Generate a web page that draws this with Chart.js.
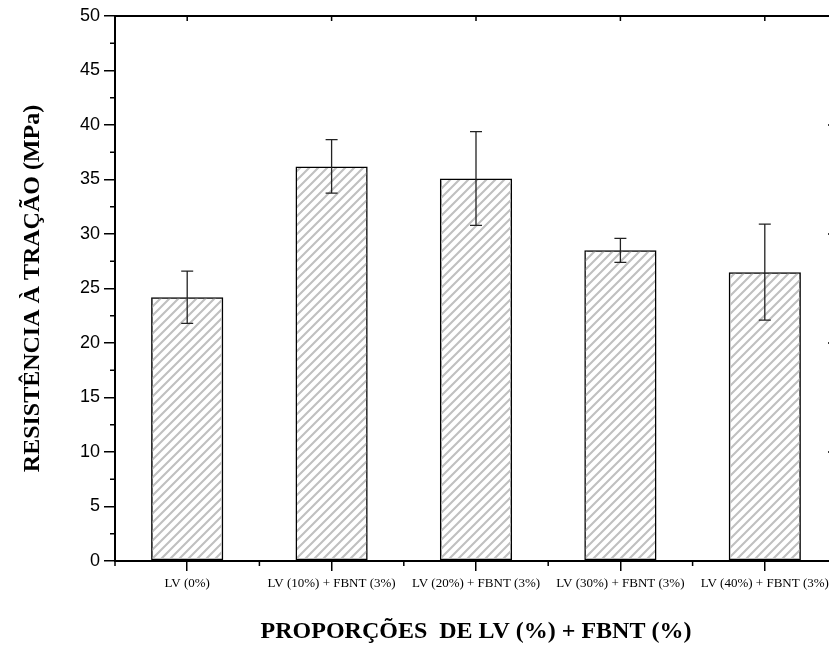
<!DOCTYPE html>
<html>
<head>
<meta charset="utf-8">
<script src="https://cdn.jsdelivr.net/npm/chart.js@4.4.1/dist/chart.umd.min.js"></script>
<style>
html, body { margin: 0; padding: 0; overflow: hidden; background: #fff; }
canvas { display: block; }
</style>
</head>
<body>
<canvas id="grafico" width="840" height="649"></canvas>
<script>
const categorias = ['LV (0%)', 'LV (10%) + FBNT (3%)', 'LV (20%) + FBNT (3%)', 'LV (30%) + FBNT (3%)', 'LV (40%) + FBNT (3%)'];
const resistencia = [24.2, 36.2, 35.1, 28.5, 26.5];
const desvio = [2.4, 2.45, 4.3, 1.1, 4.4];
const ticksY = [0, 5, 10, 15, 20, 25, 30, 35, 40, 45, 50];
const ticksDireita = [0, 10, 20, 30, 40, 50];

const ctx = document.getElementById('grafico').getContext('2d');

// padrao hachurado das barras
function hachura() {
    const s = 9;
    const t = document.createElement('canvas');
    t.width = s; t.height = s;
    const c = t.getContext('2d');
    c.strokeStyle = '#c0c0c0';
    c.lineWidth = 2.1;
    c.beginPath();
    c.moveTo(0, s); c.lineTo(s, 0);
    c.moveTo(-s / 2, s / 2); c.lineTo(s / 2, -s / 2);
    c.moveTo(s / 2, s * 1.5); c.lineTo(s * 1.5, s / 2);
    c.stroke();
    return ctx.createPattern(t, 'repeat');
}

const molduraErros = {
    id: 'molduraErros',
    afterDatasetsDraw: (chart) => {
        const c = chart.ctx;
        const y = chart.scales.y;
        const meta = chart.getDatasetMeta(0);
        c.save();
        c.strokeStyle = '#222';
        c.lineWidth = 1.3;
        meta.data.forEach((bar, i) => {
            const yt = y.getPixelForValue(resistencia[i] + desvio[i]);
            const yb = y.getPixelForValue(resistencia[i] - desvio[i]);
            c.beginPath();
            c.moveTo(bar.x, yt); c.lineTo(bar.x, yb);
            c.moveTo(bar.x - 6, yt); c.lineTo(bar.x + 6, yt);
            c.moveTo(bar.x - 6, yb); c.lineTo(bar.x + 6, yb);
            c.stroke();
        });
        c.restore();
    },
    afterDraw: (chart) => {
        const c = chart.ctx;
        const a = chart.chartArea;
        const x = chart.scales.x;
        const y = chart.scales.y;
        c.save();
        c.strokeStyle = '#000';
        c.lineWidth = 2;
        c.beginPath();
        c.moveTo(a.left - 1, a.top); c.lineTo(a.right, a.top);
        c.moveTo(a.right, a.top); c.lineTo(a.right, a.bottom);
        c.stroke();
        c.lineWidth = 1.5;
        c.beginPath();
        // ticks menores eixo y
        for (let v = 2.5; v < 50; v += 5) {
            const py = y.getPixelForValue(v);
            c.moveTo(a.left - 5, py); c.lineTo(a.left, py);
        }
        // ticks menores eixo x
        const passo = x.getPixelForValue(1) - x.getPixelForValue(0);
        for (let i = 0; i <= categorias.length; i++) {
            const px = x.getPixelForValue(i) - passo / 2;
            c.moveTo(px, a.bottom); c.lineTo(px, a.bottom + 5);
        }
        // ticks do topo
        categorias.forEach((cat, i) => {
            const px = x.getPixelForValue(i);
            c.moveTo(px, a.top); c.lineTo(px, a.top + 5);
        });
        // ticks da direita
        ticksDireita.forEach(v => {
            const py = y.getPixelForValue(v);
            c.moveTo(a.right - 9, py); c.lineTo(a.right, py);
        });
        c.stroke();
        c.restore();
    }
};

new Chart(ctx, {
    type: 'bar',
    data: {
        labels: categorias,
        datasets: [{
            data: resistencia,
            backgroundColor: hachura(),
            borderColor: '#000',
            borderWidth: 1.5,
            borderSkipped: false,
            barPercentage: 0.5,
            categoryPercentage: 1
        }]
    },
    options: {
        responsive: false,
        animation: false,
        layout: { padding: { top: 16, right: 3, left: 0, bottom: 0 } },
        plugins: {
            legend: { display: false },
            tooltip: { enabled: false }
        },
        scales: {
            x: {
                grid: { offset: false, drawOnChartArea: false, tickLength: 10, color: '#000', lineWidth: 1.5 },
                border: { display: true, color: '#000', width: 2 },
                ticks: { color: '#000', font: { family: 'Liberation Serif', size: 13 }, padding: 5, maxRotation: 0, autoSkip: false },
                title: {
                    display: true,
                    text: 'PROPORÇÕES  DE LV (%) + FBNT (%)',
                    color: '#000',
                    font: { family: 'Liberation Serif', size: 24, weight: 'bold' },
                    padding: { top: 0, bottom: 3 }
                },
                afterFit: s => { s.height = 88; }
            },
            y: {
                min: 0,
                max: 50,
                afterBuildTicks: s => { s.ticks = ticksY.map(v => ({ value: v })); },
                grid: { drawOnChartArea: false, tickLength: 11, color: '#000', lineWidth: 1.5 },
                border: { display: true, color: '#000', width: 2 },
                ticks: { color: '#000', font: { family: 'Liberation Sans', size: 18 }, padding: 4 },
                title: {
                    display: true,
                    text: 'RESISTÊNCIA À TRAÇÃO (MPa)',
                    color: '#000',
                    font: { family: 'Liberation Serif', size: 24, weight: 'bold' },
                    padding: { top: 18, bottom: 0 }
                },
                afterFit: s => { s.width = 115; }
            }
        }
    },
    plugins: [molduraErros]
});
</script>
</body>
</html>
